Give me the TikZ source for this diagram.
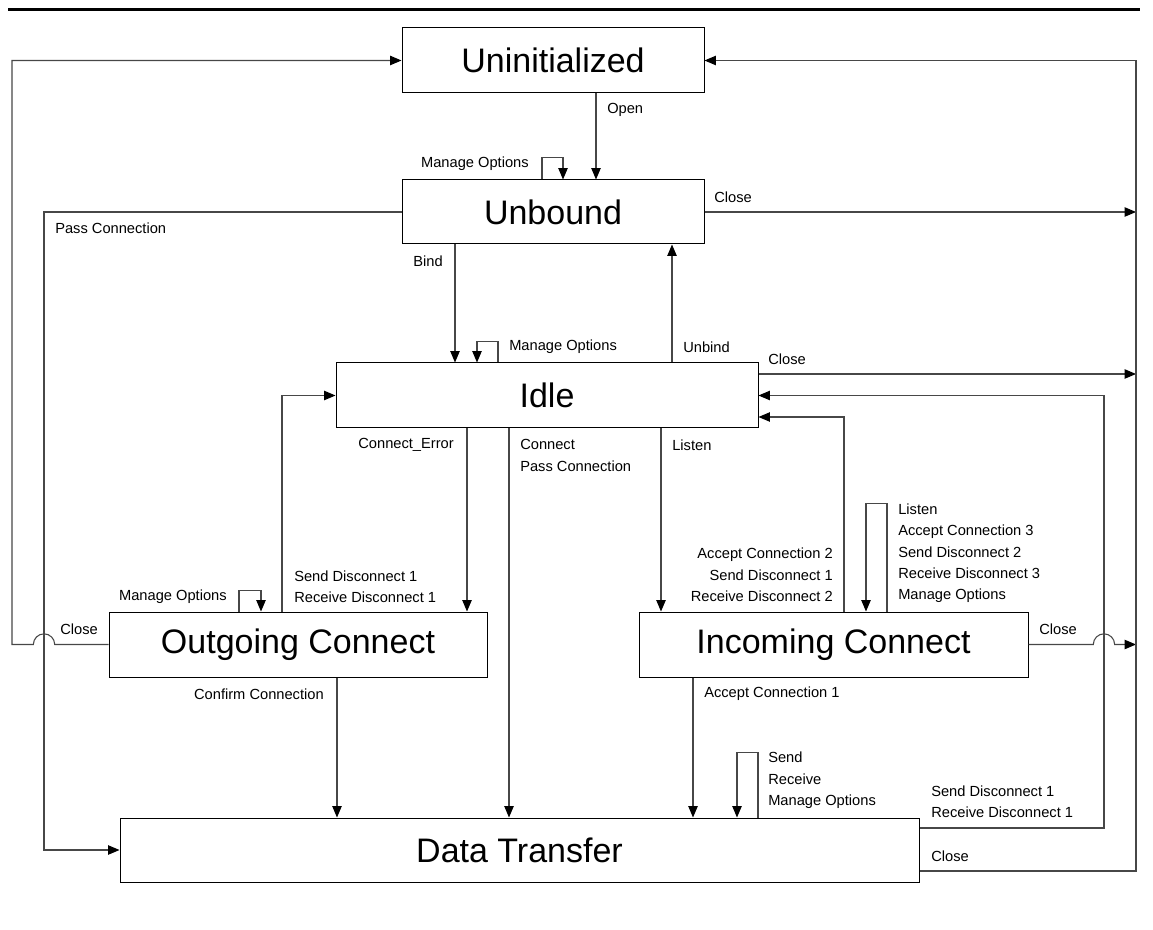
\documentclass[tikz,border=0pt]{standalone}
\usepackage{fontspec}
\setmainfont{Liberation Sans}
\usetikzlibrary{arrows.meta,calc}
\begin{document}
\begin{tikzpicture}[x=0.75pt,y=-0.75pt,
  box/.style={draw=black,line width=0.75pt,inner sep=0pt,font=\fontsize{25.5}{30}\selectfont},
  lbl/.style={inner sep=0pt,font=\fontsize{11}{16}\selectfont},
  conn/.style={draw=black!72,line width=0.8pt},
  arr/.style={conn,-{Triangle[length=8.5pt,width=7pt,color=black]}},
  rule/.style={line width=2.25pt}
]
\useasboundingbox (0,0) rectangle (1153,930);
% top rule
\coordinate (ruleL) at (8,10);
\coordinate (ruleR) at (1140,10);
\draw[rule] (ruleL) -- (ruleR);

% states
\node[box,minimum width=226.5pt,minimum height=48.75pt] (Unin) at (553,60.5) {Uninitialized};
\node[box,minimum width=226.5pt,minimum height=48pt] (Unbound) at (553,212) {Unbound};
\node[box,minimum width=316.5pt,minimum height=48.75pt] (Idle) at (547,395.5) {Idle};
\node[box,minimum width=283.5pt,minimum height=48.75pt] (Out) at (298,644.5) {Outgoing Connect};
\node[box,minimum width=291.75pt,minimum height=48.75pt] (Inc) at (833.5,644.5) {Incoming Connect};
\node[box,minimum width=599.25pt,minimum height=48pt] (DT) at (519.5,850) {Data Transfer};

% helper columns
\coordinate (bus) at (1136,0);
\coordinate (innerx) at (1104,0);
\coordinate (leftx) at (12,0);
\coordinate (passx) at (44,0);

% Uninitialized -> Unbound
\draw[arr] (Unin.south -| 596,0) -- (Unbound.north -| 596,0);
% Unbound self loop
\draw[arr] (Unbound.north -| 542,0) -- ++(0,-22) -| (Unbound.north -| 563,0);
% Unbound close
\draw[arr] (Unbound.east) -- (Unbound.east -| bus);
% Pass connection
\draw[arr] (Unbound.west) -| (DT.west -| passx) -- (DT.west);
% Bind
\draw[arr] (Unbound.south -| 455,0) -- (Idle.north -| 455,0);
% Unbind
\draw[arr] (Idle.north -| 672,0) -- (Unbound.south -| 672,0);
% Idle self loop
\draw[arr] (Idle.north -| 498,0) -- ++(0,-21) -| (Idle.north -| 477,0);
% Idle close
\draw[arr] (Idle.east |- 0,374) -- (bus |- 0,374);
% Data transfer -> Idle
\draw[arr] (DT.east |- 0,828) -| (innerx |- Idle.east) -- (Idle.east);
% Incoming -> Idle
\draw[arr] (Inc.north -| 844,0) |- (Idle.east |- 0,417);
% Connect_Error
\draw[arr] (Idle.south -| 467,0) -- (Out.north -| 467,0);
% Connect / Pass Connection
\draw[arr] (Idle.south -| 509,0) -- (DT.north -| 509,0);
% Listen
\draw[arr] (Idle.south -| 661,0) -- (Inc.north -| 661,0);
% Outgoing -> Idle
\draw[arr] (Out.north -| 282,0) |- (Idle.west);
% Outgoing self loop
\draw[arr] (Out.north -| 239,0) -- ++(0,-21) -| (Out.north -| 261,0);
% Confirm connection
\draw[arr] (Out.south -| 337,0) -- (DT.north -| 337,0);
% Outgoing close (hop over pass line)
\draw[arr] (Out.west) -- ($(passx |- Out.west)+(10.7,0)$)
  arc[start angle=0,end angle=180,radius=8pt]
  -- (leftx |- Out.west) |- (Unin.west);
% Incoming close (hop over inner line)
\draw[arr] (Inc.east) -- ($(innerx |- Inc.east)+(-10.7,0)$)
  arc[start angle=180,end angle=0,radius=8pt]
  -- (bus |- Inc.east);
% Accept connection 1
\draw[arr] (Inc.south -| 693,0) -- (DT.north -| 693,0);
% Incoming self loop
\draw[arr] (Inc.north -| 887,0) -- ++(0,-108) -| (Inc.north -| 866,0);
% Data transfer self loop
\draw[arr] (DT.north -| 758,0) -- ++(0,-65) -| (DT.north -| 737,0);
% Data transfer close -> Uninitialized
\draw[arr] (DT.east |- 0,871) -| (bus |- Unin.east) -- (Unin.east);

% labels
\node[lbl,anchor=west] (lOpen) at (607,110) {Open};
\node[lbl,anchor=east] (lMO1) at (529,164) {Manage Options};
\node[lbl,anchor=west] (lClose1) at (714,197) {Close};
\node[lbl,anchor=west] (lPass) at (55,228) {Pass Connection};
\node[lbl,anchor=east] (lBind) at (443,261) {Bind};
\node[lbl,anchor=west] (lMO2) at (509,347) {Manage Options};
\node[lbl,anchor=west] (lUnbind) at (683,347) {Unbind};
\node[lbl,anchor=west] (lClose2) at (768,359) {Close};
\node[lbl,anchor=east] (lCE) at (454,445) {Connect\_Error};
\node[lbl,anchor=west,align=left] (lConn) at (520,455.5) {Connect\\Pass Connection};
\node[lbl,anchor=west] (lListen) at (672,445) {Listen};
\node[lbl,anchor=east,align=right] (lAC2) at (833,575) {Accept Connection 2\\Send Disconnect 1\\Receive Disconnect 2};
\node[lbl,anchor=west,align=left] (lIncLoop) at (898,553.5) {Listen\\Accept Connection 3\\Send Disconnect 2\\Receive Disconnect 3\\Manage Options};
\node[lbl,anchor=west,align=left] (lSD1) at (294,586.5) {Send Disconnect 1\\Receive Disconnect 1};
\node[lbl,anchor=east] (lMO3) at (227,597) {Manage Options};
\node[lbl,anchor=west] (lClose3) at (60,629) {Close};
\node[lbl,anchor=west] (lClose4) at (1039,629) {Close};
\node[lbl,anchor=east] (lCC) at (324,694) {Confirm Connection};
\node[lbl,anchor=west] (lAC1) at (704,694) {Accept Connection 1};
\node[lbl,anchor=west,align=left] (lDTLoop) at (768,780.5) {Send\\Receive\\Manage Options};
\node[lbl,anchor=west,align=left] (lSD2) at (931,802) {Send Disconnect 1\\Receive Disconnect 1};
\node[lbl,anchor=west] (lClose5) at (931,856) {Close};
\end{tikzpicture}
\end{document}
